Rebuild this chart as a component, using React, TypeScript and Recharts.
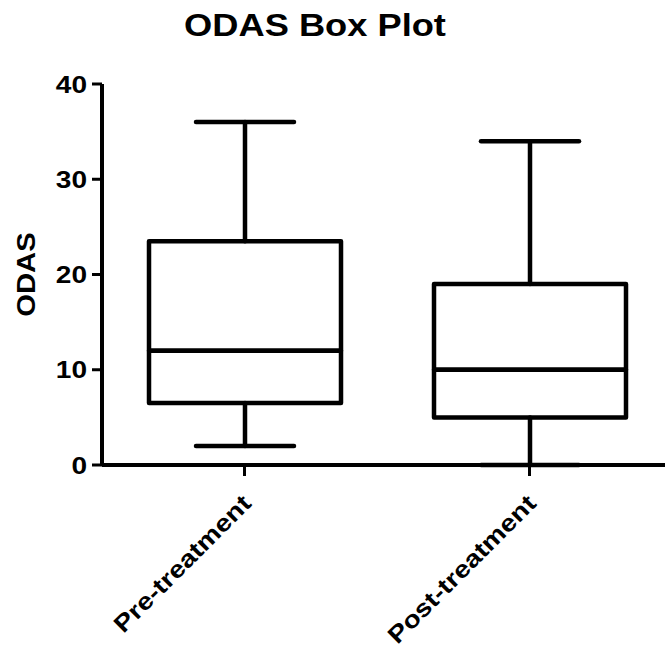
import React from "react";
import { BarChart, Bar, XAxis, YAxis } from "recharts";

const groups = ["Pre-treatment", "Post-treatment"];
const minVals = [2, 0];
const q1Vals = [6.5, 5];
const medianVals = [12, 10];
const q3Vals = [23.5, 19];
const maxVals = [36, 34];
const yTicks = [0, 10, 20, 30, 40];

const data = groups.map((name, i) => ({
  name,
  base: minVals[i],
  lowWhisker: q1Vals[i] - minVals[i],
  lowBox: medianVals[i] - q1Vals[i],
  highBox: q3Vals[i] - medianVals[i],
  highWhisker: maxVals[i] - q3Vals[i],
}));

const FONT = "'Liberation Sans', Arial, Helvetica, sans-serif";
const STRETCH = 1.17;
const LINE = 4.5;
const CAP = 98;

const LowWhisker = (props: any) => {
  const { x, y, width, height } = props;
  const cx = x + width / 2;
  return (
    <g stroke="#000" strokeWidth={LINE} strokeLinecap="round">
      <line x1={cx} x2={cx} y1={y} y2={y + height} />
      <line x1={cx - CAP / 2} x2={cx + CAP / 2} y1={y + height} y2={y + height} />
    </g>
  );
};

const HighWhisker = (props: any) => {
  const { x, y, width, height } = props;
  const cx = x + width / 2;
  return (
    <g stroke="#000" strokeWidth={LINE} strokeLinecap="round">
      <line x1={cx} x2={cx} y1={y} y2={y + height} />
      <line x1={cx - CAP / 2} x2={cx + CAP / 2} y1={y} y2={y} />
    </g>
  );
};

const BoxPart = (props: any) => {
  const { x, y, width, height } = props;
  return (
    <rect x={x} y={y} width={width} height={height} fill="none" stroke="#000" strokeWidth={LINE} strokeLinejoin="round" />
  );
};

const YTick = (props: any) => {
  const { x, y, payload } = props;
  return (
    <text transform={`translate(${x},${y}) scale(${STRETCH},1)`} textAnchor="end" dy="0.36em" fontFamily={FONT} fontWeight="bold" fontSize={24} fill="#000">
      {payload.value}
    </text>
  );
};

// rotated category labels, end of text just below the tick
const XTick = (props: any) => {
  const { x, y, payload } = props;
  return (
    <text transform={`translate(${x + 8},${y + 27}) rotate(-45) scale(${STRETCH},1)`} textAnchor="end" fontFamily={FONT} fontWeight="bold" fontSize={24} fill="#000">
      {payload.value}
    </text>
  );
};

const YLabel = (props: any) => {
  const { viewBox } = props;
  const cx = viewBox.x + 13;
  const cy = viewBox.y + viewBox.height / 2;
  return (
    <text transform={`translate(${cx},${cy}) rotate(-90) scale(${STRETCH},1)`} textAnchor="middle" fontFamily={FONT} fontWeight="bold" fontSize={25} fill="#000">
      ODAS
    </text>
  );
};

export default function App() {
  return (
    <div style={{ position: "absolute", left: 0, top: 0, width: 665, height: 650, overflow: "hidden", background: "#fff" }}>
      <svg width={665} height={60} style={{ position: "absolute", left: 0, top: 0 }}>
        <text transform={`translate(315,36) scale(${STRETCH},1)`} textAnchor="middle" fontFamily={FONT} fontWeight="bold" fontSize={31} fill="#000">
          ODAS Box Plot
        </text>
      </svg>
      <BarChart width={672} height={650} data={data} margin={{ top: 84, right: 0, bottom: 0, left: 22 }} barSize={192}>
        <XAxis
          dataKey="name"
          height={185}
          axisLine={{ stroke: "#000", strokeWidth: 4 }}
          tickLine={{ stroke: "#000", strokeWidth: 3 }}
          tickSize={11}
          tick={<XTick />}
          interval={0}
        />
        <YAxis
          width={80}
          domain={[0, 40]}
          ticks={yTicks}
          axisLine={{ stroke: "#000", strokeWidth: 4 }}
          tickLine={{ stroke: "#000", strokeWidth: 3 }}
          tickSize={10}
          tickMargin={5}
          tick={<YTick />}
          label={{ content: <YLabel /> }}
        />
        <Bar dataKey="base" stackId="box" fill="transparent" isAnimationActive={false} />
        <Bar dataKey="lowWhisker" stackId="box" shape={<LowWhisker />} isAnimationActive={false} />
        <Bar dataKey="lowBox" stackId="box" shape={<BoxPart />} isAnimationActive={false} />
        <Bar dataKey="highBox" stackId="box" shape={<BoxPart />} isAnimationActive={false} />
        <Bar dataKey="highWhisker" stackId="box" shape={<HighWhisker />} isAnimationActive={false} />
      </BarChart>
    </div>
  );
}
